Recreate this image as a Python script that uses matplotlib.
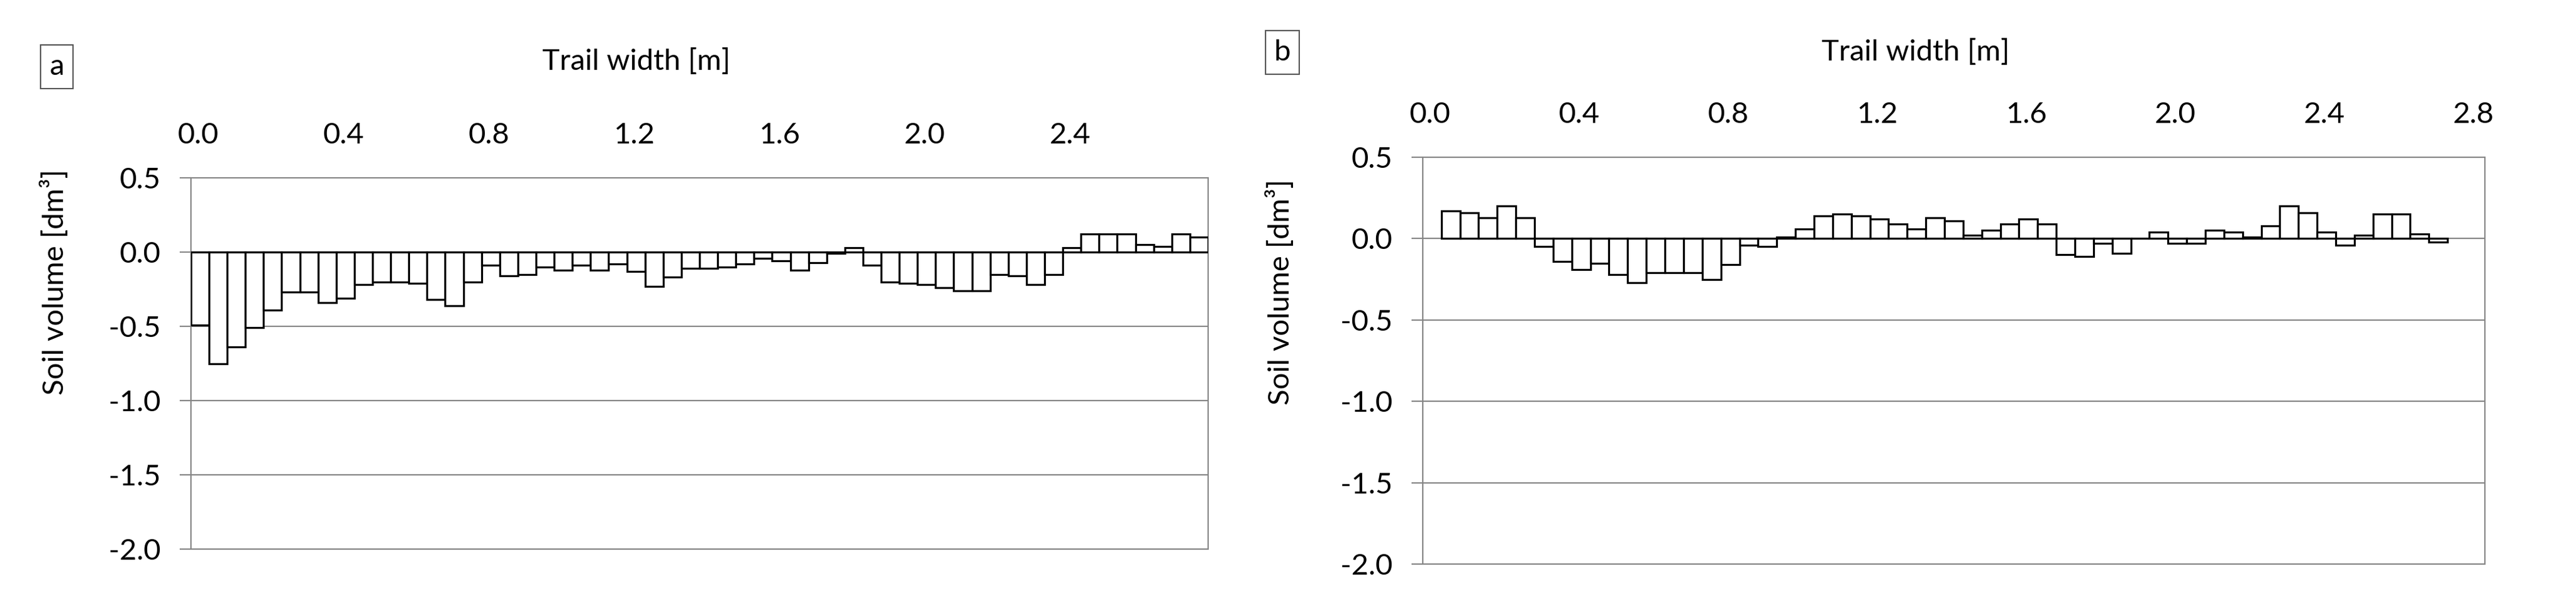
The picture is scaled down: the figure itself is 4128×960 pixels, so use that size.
import numpy as np
import matplotlib
matplotlib.use("Agg")
import matplotlib.pyplot as plt
from matplotlib.ticker import FormatStrFormatter

plt.rcParams['font.family'] = ['Lato', 'DejaVu Sans']
plt.rcParams['axes.unicode_minus'] = False

# soil volume per 5 cm strip of trail width [dm3]
vol_a = [-0.49, -0.75, -0.64, -0.51, -0.39, -0.27, -0.27, -0.34, -0.31, -0.22,
         -0.20, -0.20, -0.21, -0.32, -0.36, -0.20, -0.09, -0.16, -0.15, -0.10,
         -0.12, -0.09, -0.12, -0.08, -0.13, -0.23, -0.17, -0.11, -0.11, -0.10,
         -0.08, -0.04, -0.06, -0.12, -0.07, -0.01, 0.03, -0.09, -0.20, -0.21,
         -0.22, -0.24, -0.26, -0.26, -0.15, -0.16, -0.22, -0.15, 0.03, 0.12,
         0.12, 0.12, 0.05, 0.04, 0.12, 0.10]
vol_b = [0.17, 0.16, 0.13, 0.20, 0.13, -0.05, -0.14, -0.19, -0.15, -0.22,
         -0.27, -0.21, -0.21, -0.21, -0.25, -0.16, -0.04, -0.05, 0.01, 0.06,
         0.14, 0.15, 0.14, 0.12, 0.09, 0.06, 0.13, 0.11, 0.02, 0.05,
         0.09, 0.12, 0.09, -0.10, -0.11, -0.03, -0.09, 0.00, 0.04, -0.03,
         -0.03, 0.05, 0.04, 0.01, 0.08, 0.20, 0.16, 0.04, -0.04, 0.02,
         0.15, 0.15, 0.03, -0.02]

step = 0.05
pos_a = np.arange(len(vol_a)) * step          # 0.00 .. 2.75
pos_b = (np.arange(len(vol_b)) + 1) * step    # 0.05 .. 2.70
shift = 0.02

x_ticks_a = [0.0, 0.4, 0.8, 1.2, 1.6, 2.0, 2.4]
x_ticks_b = [0.0, 0.4, 0.8, 1.2, 1.6, 2.0, 2.4, 2.8]
y_ticks = [0.5, 0.0, -0.5, -1.0, -1.5, -2.0]

grey = '#858585'
fs = 34

fig = plt.figure(figsize=(41.28, 9.6), dpi=100)
ax_a = fig.add_axes([0.0741, 0.0833, 0.3949, 0.6198])
ax_b = fig.add_axes([0.5523, 0.0583, 0.4123, 0.6792])


def draw(ax, pos, vol, xlim, xticks, letter, title_xy, ylab_xy, box_xy):
    ax.bar(pos - shift, vol, width=step, align='edge', color='white',
           edgecolor='black', linewidth=2.3, zorder=3)
    ax.set_xlim(*xlim)
    ax.set_ylim(-2.0, 0.5)
    ax.set_yticks(y_ticks)
    ax.yaxis.set_major_formatter(FormatStrFormatter('%.1f'))
    ax.set_xticks(xticks)
    ax.xaxis.set_major_formatter(FormatStrFormatter('%.1f'))
    ax.xaxis.tick_top()
    ax.tick_params(axis='x', length=0, pad=34, labelsize=fs)
    ax.tick_params(axis='y', length=13, width=1.5, color=grey, pad=22,
                   labelsize=fs)
    ax.grid(axis='y', color=grey, linewidth=1.5, zorder=0)
    ax.axhline(0, color=grey, linewidth=1.5, zorder=1)
    for s in ax.spines.values():
        s.set_color(grey)
        s.set_linewidth(1.5)
    ax.set_ylabel('Soil volume [dm³]', fontsize=fs)
    ax.yaxis.set_label_coords(*ylab_xy)
    ax.text(title_xy[0], title_xy[1], 'Trail width [m]', transform=ax.transAxes,
            ha='center', va='center', fontsize=fs)
    fig.text(box_xy[0], box_xy[1], letter, ha='center', va='center',
             fontsize=fs,
             bbox=dict(boxstyle='square,pad=0.3', facecolor='white',
                       edgecolor='#555555', linewidth=1.5))


draw(ax_a, pos_a, vol_a, (-0.02, 2.78), x_ticks_a, 'a', (0.438, 1.314),
     (-0.12, 0.72), (91 / 4128, 1 - 107 / 960))
draw(ax_b, pos_b, vol_b, (-0.02, 2.83), x_ticks_b, 'b', (0.464, 1.259),
     (-0.121, 0.669), (2055 / 4128, 1 - 84 / 960))

fig.savefig('out.png', dpi=100)
